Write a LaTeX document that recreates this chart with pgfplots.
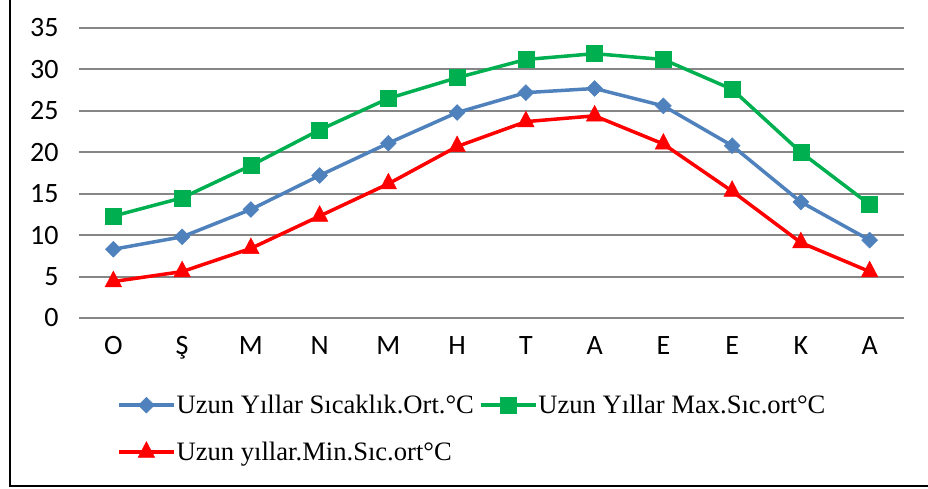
\documentclass[border=0pt]{standalone}
\usepackage{fontspec}
\setmainfont{Liberation Serif}
\newfontfamily\calibri{Carlito}
\usepackage{pgfplots}
\pgfplotsset{compat=1.18}
\definecolor{cblue}{HTML}{4F81BD}
\definecolor{cgreen}{HTML}{00B050}
\definecolor{cred}{HTML}{FF0000}
\definecolor{cgrid}{HTML}{868686}
\begin{document}
\begin{tikzpicture}[x=1pt,y=1pt]
\useasboundingbox (0,0) rectangle (928,488);
\draw[line width=2.5pt] (10,488) -- (10,2) -- (928,2);
\begin{axis}[
 at={(79pt,170pt)}, anchor=south west,
 width=825pt, height=290pt, scale only axis,
 xmin=-0.5, xmax=11.5, ymin=0, ymax=35,
 ytick={0,5,...,35},
 xtick={0,...,11},
 xticklabels={O,Ş,M,N,M,H,T,A,E,E,K,A},
 ymajorgrids, major grid style={cgrid, line width=2pt},
 axis line style={draw=none},
 major tick length=0pt,
 /pgf/number format/assume math mode=true,
 ticklabel style={font=\calibri\fontsize{28}{30}\selectfont},
 yticklabel style={xshift=-17pt},
 xticklabel style={yshift=-15pt},
 clip=false,
 legend columns=2,
 legend cell align=left,
 legend style={draw=none, fill=none, at={(0.046,-0.262)}, anchor=north west,
   font=\fontsize{26.6}{30}\selectfont, inner sep=0pt, row sep=25pt,
   /tikz/every even column/.style={column sep=4pt}, nodes={inner sep=1pt}},
 legend image code/.code={\draw[mark repeat=2, mark phase=2] plot coordinates {(0pt,0pt) (27.5pt,0pt) (55pt,0pt)};},
]
\addplot[cblue, line width=3.5pt, mark=square*, mark size=5.6pt, mark options={rotate=45, solid, fill=cblue, line width=0.5pt}]
 coordinates {(0,8.3)(1,9.8)(2,13.1)(3,17.2)(4,21.1)(5,24.8)(6,27.2)(7,27.7)(8,25.6)(9,20.8)(10,14.0)(11,9.4)};
\addlegendentry{Uzun Yıllar Sıcaklık.Ort.°C}
\addplot[cgreen, line width=3.5pt, mark=square*, mark size=8pt, mark options={solid, fill=cgreen, line width=0.5pt}]
 coordinates {(0,12.3)(1,14.5)(2,18.4)(3,22.7)(4,26.5)(5,29.0)(6,31.2)(7,31.9)(8,31.2)(9,27.6)(10,20.0)(11,13.7)};
\addlegendentry{Uzun Yıllar Max.Sıc.ort°C}
\addplot[cred, line width=3.5pt, mark=triangle*, mark size=9.5pt, mark options={solid, fill=cred, line width=0.5pt, yscale=1.1}]
 coordinates {(0,4.4)(1,5.6)(2,8.4)(3,12.3)(4,16.2)(5,20.7)(6,23.7)(7,24.4)(8,21.0)(9,15.3)(10,9.1)(11,5.6)};
\addlegendentry{Uzun yıllar.Min.Sıc.ort°C}
\end{axis}
\end{tikzpicture}
\end{document}
